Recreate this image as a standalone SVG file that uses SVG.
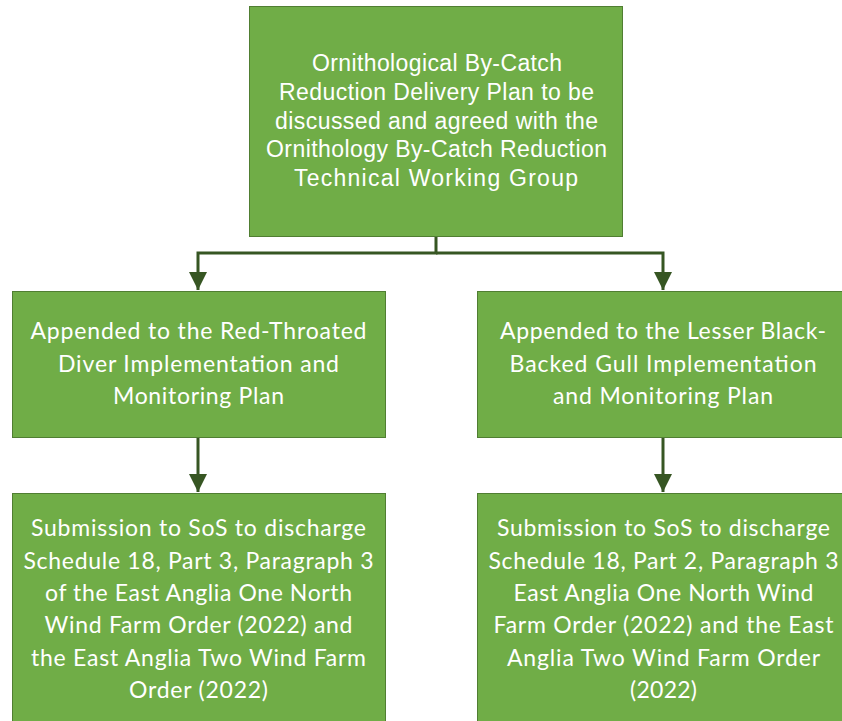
<svg xmlns="http://www.w3.org/2000/svg" width="842" height="721" viewBox="0 0 842 721">
<defs>
<style>
.box{fill:#70AD47;stroke:#507E32;stroke-width:1}
.t1{font-family:"Liberation Sans",Arial,sans-serif;font-size:23px;fill:#FFFFFF;text-anchor:middle}
.t2{font-family:Lato,"Open Sans",sans-serif;font-size:23px;fill:#FFFFFF;text-anchor:middle}
.conn{fill:none;stroke:#375623;stroke-width:3}
</style>
<marker id="arr" markerUnits="userSpaceOnUse" markerWidth="18" markerHeight="18" refX="18" refY="9" orient="auto" viewBox="0 0 18 18">
<path d="M0,0 L18,9 L0,18 Z" fill="#375623"/>
</marker>
</defs>
<rect width="842" height="721" fill="#FFFFFF"/>
<g id="connectors">
<path class="conn" d="M436,237 V253 H198 V290" marker-end="url(#arr)"/>
<path class="conn" d="M436,253 H663 V290" marker-end="url(#arr)"/>
<path class="conn" d="M198,438 V492" marker-end="url(#arr)"/>
<path class="conn" d="M663,438 V492" marker-end="url(#arr)"/>
</g>
<g id="node-top">
<rect class="box" x="249.5" y="6.5" width="373" height="230"/>
<text class="t1" x="437" y="70.5" textLength="250" lengthAdjust="spacing">Ornithological By-Catch</text>
<text class="t1" x="436.5" y="99.5" textLength="315" lengthAdjust="spacing">Reduction Delivery Plan to be</text>
<text class="t1" x="436.5" y="128.5" textLength="323" lengthAdjust="spacing">discussed and agreed with the</text>
<text class="t1" x="436.5" y="157" textLength="341" lengthAdjust="spacing">Ornithology By-Catch Reduction</text>
<text class="t1" x="436" y="186" textLength="284" lengthAdjust="spacing">Technical Working Group</text>
</g>
<g id="node-left">
<rect class="box" x="12.5" y="291.5" width="373" height="146"/>
<text class="t2" x="198.5" y="339.3" textLength="336" lengthAdjust="spacing">Appended to the Red-Throated</text>
<text class="t2" x="198.5" y="371.8" textLength="281" lengthAdjust="spacing">Diver Implementation and</text>
<text class="t2" x="198.5" y="404.3" textLength="171" lengthAdjust="spacing">Monitoring Plan</text>
</g>
<g id="node-right">
<rect class="box" x="477.5" y="291.5" width="373" height="146"/>
<text class="t2" x="663" y="339.3" textLength="326" lengthAdjust="spacing">Appended to the Lesser Black-</text>
<text class="t2" x="663" y="371.8" textLength="307" lengthAdjust="spacing">Backed Gull Implementation</text>
<text class="t2" x="663" y="404.3" textLength="220" lengthAdjust="spacing">and Monitoring Plan</text>
</g>
<g id="node-bottom-left">
<rect class="box" x="12.5" y="493.5" width="373" height="240"/>
<text class="t2" x="198.5" y="536.4" textLength="335" lengthAdjust="spacing">Submission to SoS to discharge</text>
<text class="t2" x="198.5" y="568.7" textLength="350" lengthAdjust="spacing">Schedule 18, Part 3, Paragraph 3</text>
<text class="t2" x="198.5" y="601" textLength="307" lengthAdjust="spacing">of the East Anglia One North</text>
<text class="t2" x="198.5" y="633.3" textLength="308" lengthAdjust="spacing">Wind Farm Order (2022) and</text>
<text class="t2" x="198.5" y="665.6" textLength="335" lengthAdjust="spacing">the East Anglia Two Wind Farm</text>
<text class="t2" x="198.5" y="697.9" textLength="139" lengthAdjust="spacing">Order (2022)</text>
</g>
<g id="node-bottom-right">
<rect class="box" x="477.5" y="493.5" width="373" height="240"/>
<text class="t2" x="663.5" y="536.4" textLength="333" lengthAdjust="spacing">Submission to SoS to discharge</text>
<text class="t2" x="663.5" y="568.7" textLength="350" lengthAdjust="spacing">Schedule 18, Part 2, Paragraph 3</text>
<text class="t2" x="663.5" y="601" textLength="300" lengthAdjust="spacing">East Anglia One North Wind</text>
<text class="t2" x="663.5" y="633.3" textLength="340" lengthAdjust="spacing">Farm Order (2022) and the East</text>
<text class="t2" x="663.5" y="665.6" textLength="313" lengthAdjust="spacing">Anglia Two Wind Farm Order</text>
<text class="t2" x="663.5" y="697.9" textLength="67" lengthAdjust="spacing">(2022)</text>
</g>
</svg>
